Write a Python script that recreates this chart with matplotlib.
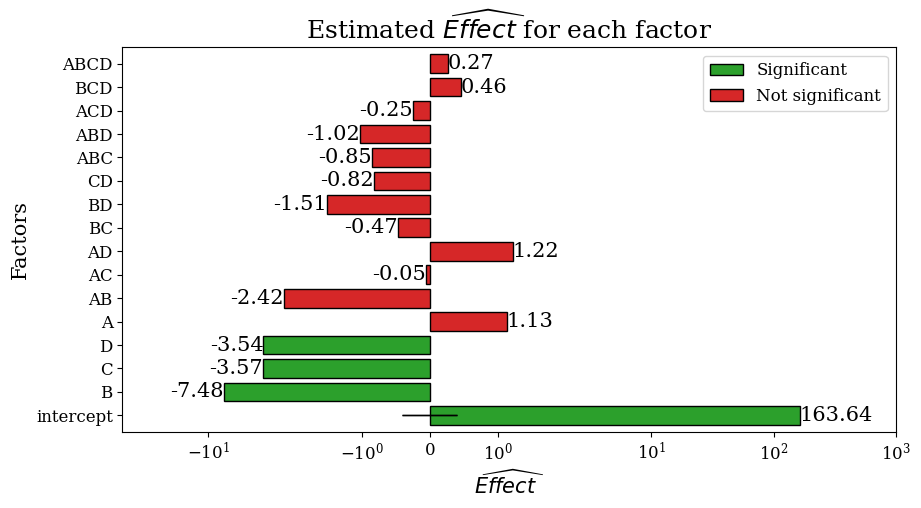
import matplotlib.pyplot as plt
import numpy as np

plt.rcParams['font.family'] = 'DejaVu Serif'
plt.rcParams['mathtext.fontset'] = 'dejavusans'

factores = ['intercept', 'B', 'C', 'D', 'A', 'AB', 'AC', 'AD', 'BC', 'BD',
            'CD', 'ABC', 'ABD', 'ACD', 'BCD', 'ABCD']
efectos = [163.64, -7.48, -3.57, -3.54, 1.13, -2.42, -0.05, 1.22, -0.47,
           -1.51, -0.82, -0.85, -1.02, -0.25, 0.46, 0.27]
significativo = [True, True, True, True] + [False] * 12

colores = ['#2ca02c' if s else '#d62728' for s in significativo]

fig, ax = plt.subplots(figsize=(9.21, 5.08), dpi=100)
fig.subplots_adjust(left=0.133, right=0.973, top=0.907, bottom=0.15)

y = np.arange(len(factores))
ax.barh(y, efectos, color=colores, edgecolor='black')
ax.set_xscale('symlog', linthresh=2, linscale=1)
ax.set_xlim(-50, 1000)
ax.set_ylim(-0.7, len(factores) - 0.3)
ax.set_yticks(y)
ax.set_yticklabels(factores)
ax.tick_params(labelsize=12)

for yi, v in zip(y, efectos):
    ax.text(v, yi, f'{v:.2f}', va='center', ha='left' if v > 0 else 'right', fontsize=15)

ax.bar(0, 0, color='#2ca02c', edgecolor='black', label='Significant')
ax.bar(0, 0, color='#d62728', edgecolor='black', label='Not significant')
ax.legend(loc='upper right', fontsize=12)

ax.set_title(r'Estimated $\widehat{Effect}$ for each factor', fontsize=18)
ax.set_xlabel(r'$\widehat{Effect}$', fontsize=15)
ax.set_ylabel('Factors', fontsize=15)

plt.savefig('out.png')
